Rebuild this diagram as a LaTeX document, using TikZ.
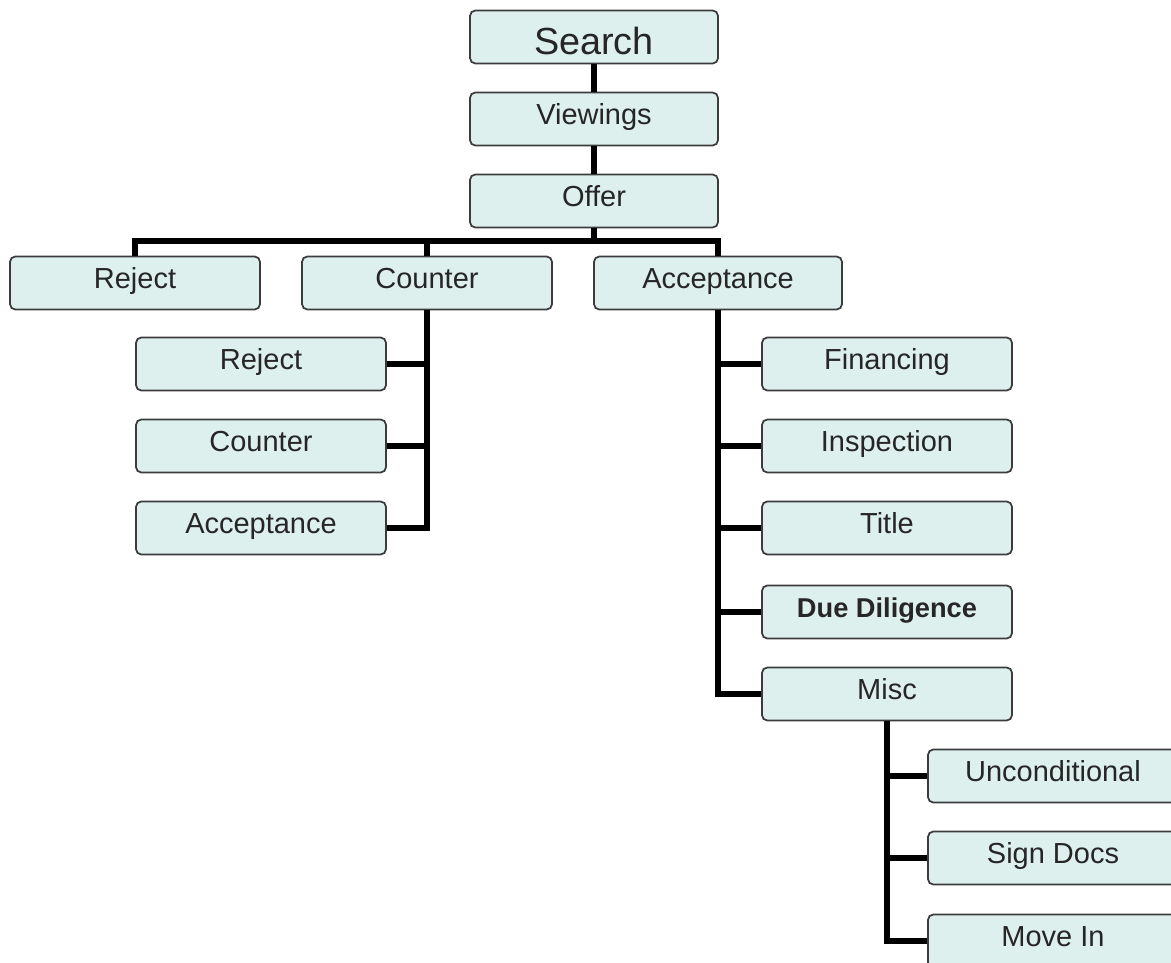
\documentclass[tikz,border=0pt]{standalone}
\usepackage{fontspec}
\setmainfont{Liberation Sans}
\definecolor{boxfill}{RGB}{221,240,238}
\definecolor{boxline}{RGB}{60,60,60}

\begin{document}
\begin{tikzpicture}[x=0.02cm, y=-0.02cm,
    stage/.style={draw=boxline, line width=1pt, fill=boxfill, rounded corners=3pt,
      minimum width=5cm, minimum height=1.06cm, inner sep=0pt,
      text height=10pt, text depth=3.2pt,
      font=\fontsize{16.5}{19}\selectfont, text=black!85},
    link/.style={line width=3.2pt, black}]
  \clip (0,0) rectangle (1171,963);
  % ---- main chain ----
  \node[stage, minimum width=4.96cm, text height=19.6pt, text depth=0pt,
    font=\fontsize{21.5}{26}\selectfont] (search) at (594,37) {Search};
  \node[stage, minimum width=4.96cm] (view) at (594,119) {Viewings};
  \node[stage, minimum width=4.96cm] (offer) at (594,201) {Offer};
  \coordinate (bar) at (594,241);
  % ---- responses to the offer ----
  \node[stage] (rej) at (135,283) {Reject};
  \node[stage] (cnt) at (427,283) {Counter};
  \node[stage, minimum width=4.96cm] (acc) at (718,283) {Acceptance};
  % ---- counter branch ----
  \node[stage] (crej) at (261,364) {Reject};
  \node[stage] (ccnt) at (261,446) {Counter};
  \node[stage] (cacc) at (261,528) {Acceptance};
  % ---- acceptance branch ----
  \node[stage] (fin) at (887,364) {Financing};
  \node[stage] (insp) at (887,446) {Inspection};
  \node[stage] (title) at (887,528) {Title};
  \node[stage, font=\bfseries\fontsize{15.5}{19}\selectfont] (due) at (887,612) {Due Diligence};
  \node[stage] (misc) at (887,694) {Misc};
  % ---- misc branch ----
  \node[stage] (uncond) at (1053,776) {Unconditional};
  \node[stage] (sign) at (1053,858) {Sign Docs};
  \node[stage] (move) at (1053,941) {Move In};
  % ---- connectors ----
  \draw[link] (search) -- (view);
  \draw[link] (view) -- (offer);
  \draw[link] (offer.south) -- (bar);
  \draw[link] (rej.north) -- (rej.north |- bar) -- (acc.north |- bar) -- (acc.north);
  \draw[link] (cnt.north) -- (cnt.north |- bar);
  \draw[link] (cnt.south) |- (cacc.east);
  \draw[link] (crej.east) -- (crej.east -| cnt.south);
  \draw[link] (ccnt.east) -- (ccnt.east -| cnt.south);
  \draw[link] (acc.south) |- (misc.west);
  \foreach \n in {fin,insp,title,due}
    \draw[link] (\n.west) -- (\n.west -| acc.south);
  \draw[link] (misc.south) |- (move.west);
  \draw[link] (uncond.west) -- (uncond.west -| misc.south);
  \draw[link] (sign.west) -- (sign.west -| misc.south);
\end{tikzpicture}
\end{document}
